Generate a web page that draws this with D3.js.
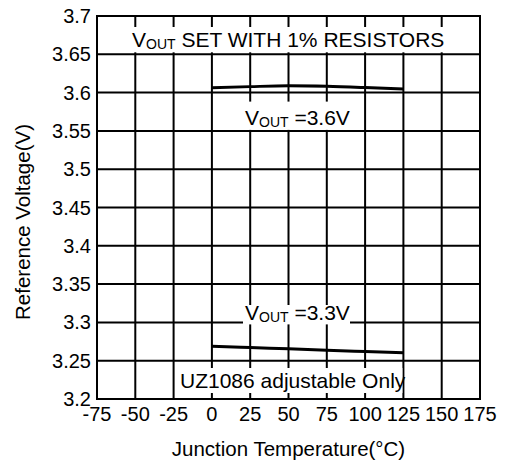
<!DOCTYPE html>
<meta charset="utf-8">
<style>
    body { margin: 0; background: #fff; }
    text { font-family: "Liberation Sans", Arial, Helvetica, sans-serif; fill: #000; }
    .grid line { stroke: #000; stroke-width: 2px; }
    .tick-label { font-size: 20px; }
    .title { font-size: 20.5px; }
    .note { font-size: 21px; }
</style>
<body>
    <svg width="505" height="464"></svg>
</body>
<script src="https://d3js.org/d3.v7.min.js"></script>
<script>
    // values
    var tempTicks = [-75, -50, -25, 0, 25, 50, 75, 100, 125, 150, 175];
    var voltTicks = [3.2, 3.25, 3.3, 3.35, 3.4, 3.45, 3.5, 3.55, 3.6, 3.65, 3.7];
    var tempC = [0, 25, 50, 75, 100, 125];
    var vout36 = [3.6064, 3.6078, 3.6088, 3.6082, 3.6066, 3.6046];
    var vout33 = [3.2690, 3.2672, 3.2655, 3.2637, 3.2620, 3.2604];

    var svg = d3.select("svg"),
        pLeft = 97, pRight = 480, pTop = 16, pBottom = 399;

    var x = d3.scaleLinear().domain([-75, 175]).range([pLeft, pRight]);
    var y = d3.scaleLinear().domain([3.2, 3.7]).range([pBottom, pTop]);

    var grid = svg.append("g").attr("class", "grid");

    grid.selectAll(".vx")
        .data(tempTicks)
        .enter().append("line")
        .attr("x1", function (d) { return x(d); })
        .attr("x2", function (d) { return x(d); })
        .attr("y1", pTop - 1)
        .attr("y2", pBottom + 1);

    grid.selectAll(".hy")
        .data(voltTicks)
        .enter().append("line")
        .attr("x1", pLeft - 1)
        .attr("x2", pRight + 1)
        .attr("y1", function (d) { return y(d); })
        .attr("y2", function (d) { return y(d); });

    // tick labels
    svg.selectAll(".ylab")
        .data(voltTicks)
        .enter().append("text")
        .attr("class", "tick-label")
        .attr("x", pLeft - 6)
        .attr("y", function (d) { return y(d); })
        .attr("dy", "0.35em")
        .attr("text-anchor", "end")
        .text(function (d) { return d3.format("")(d); });

    svg.selectAll(".xlab")
        .data(tempTicks)
        .enter().append("text")
        .attr("class", "tick-label")
        .attr("x", function (d) { return x(d); })
        .attr("y", 421)
        .attr("text-anchor", "middle")
        .text(function (d) { return d; });

    // axis titles
    svg.append("text")
        .attr("class", "title")
        .attr("x", (pLeft + pRight) / 2)
        .attr("y", 456)
        .attr("text-anchor", "middle")
        .text("Junction Temperature(°C)");

    svg.append("text")
        .attr("class", "title")
        .attr("transform", "translate(30," + 222 + ") rotate(-90)")
        .attr("text-anchor", "middle")
        .text("Reference Voltage(V)");

    // white label boxes over the grid
    function box(x0, y0, x1, y1) {
        svg.append("rect")
            .attr("x", x0).attr("y", y0)
            .attr("width", x1 - x0).attr("height", y1 - y0)
            .attr("fill", "#fff");
    }

    function vout(xp, yp, rest) {
        var t = svg.append("text").attr("class", "note").attr("x", xp).attr("y", yp);
        t.append("tspan").text("V");
        t.append("tspan").attr("dy", 1.5).style("font-size", "14px").text("OUT");
        t.append("tspan").attr("dy", -1.5).text(rest);
        return t;
    }

    box(pLeft + 1, pTop + 11, pRight - 1, y(3.65) - 2);
    vout(132, 47, " SET WITH 1% RESISTORS");

    box(243, y(3.6) + 9, 350, y(3.55) - 1);
    vout(245, 125, " =3.6V");

    box(243, 305, 350, y(3.3) + 2);
    vout(245, 320, " =3.3V");

    box(x(-25) + 2, 368, x(125) - 1, pBottom - 6);
    svg.append("text")
        .attr("class", "note")
        .attr("x", 180)
        .attr("y", 388)
        .text("UZ1086 adjustable Only");

    // data lines
    var line = d3.line()
        .x(function (d) { return x(d[0]); })
        .y(function (d) { return y(d[1]); })
        .curve(d3.curveMonotoneX);

    svg.append("path")
        .datum(d3.zip(tempC, vout36))
        .attr("d", line)
        .attr("fill", "none")
        .attr("stroke", "#000")
        .attr("stroke-width", 3);

    svg.append("path")
        .datum(d3.zip(tempC, vout33))
        .attr("d", line)
        .attr("fill", "none")
        .attr("stroke", "#000")
        .attr("stroke-width", 3);
</script>
